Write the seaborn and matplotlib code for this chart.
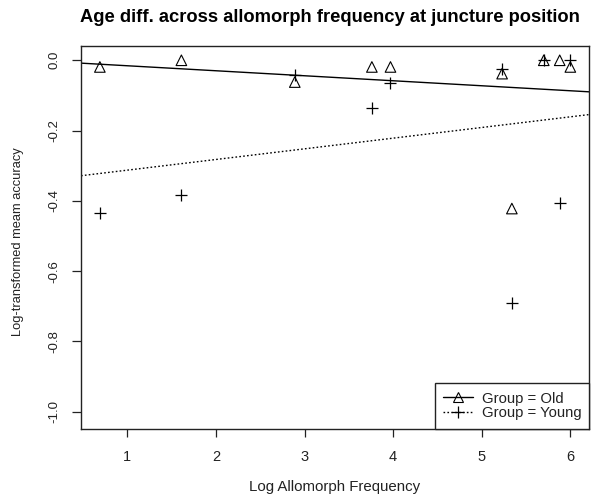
import matplotlib
matplotlib.use("Agg")
import matplotlib.pyplot as plt
from matplotlib.lines import Line2D
import numpy as np
import pandas as pd
import seaborn as sns

# ---- data ----
old_x = [0.69, 1.61, 2.89, 3.76, 3.97, 5.23, 5.70, 5.88, 6.00, 5.34]
old_y = [-0.019, 0.0, -0.062, -0.019, -0.019, -0.038, 0.0, 0.0, -0.019, -0.422]
young_x = [0.69, 1.61, 2.89, 3.76, 3.97, 5.23, 5.70, 6.00, 5.88, 5.34]
young_y = [-0.436, -0.384, -0.043, -0.135, -0.065, -0.024, 0.0, 0.0, -0.405, -0.692]
groups = ["Old", "Young"]
legend_labels = ["Group = Old", "Group = Young"]
x_ticks = [1, 2, 3, 4, 5, 6]
y_ticks = [0.0, -0.2, -0.4, -0.6, -0.8, -1.0]
y_tick_labels = ["0.0", "-0.2", "-0.4", "-0.6", "-0.8", "-1.0"]

df = pd.DataFrame({
    "x": old_x + young_x,
    "y": old_y + young_y,
    "Group": ["Old"] * len(old_x) + ["Young"] * len(young_x),
})

sns.set_theme(style="white")
plt.rcParams["font.family"] = ["Liberation Sans", "DejaVu Sans"]

W, H = 592, 496
fig = plt.figure(figsize=(W / 100, H / 100), dpi=100)
left, right, top, bottom = 81, 589.3, 45.7, 428.5
ax = fig.add_axes([left / W, 1 - bottom / H, (right - left) / W, (bottom - top) / H])

xlim = (0.477, 6.214)
ylim = (-1.048, 0.0415)
ax.set_xlim(*xlim)
ax.set_ylim(*ylim)

styles = {
    "Old": dict(marker="^", ls="-", s=58),
    "Young": dict(marker="+", ls=(0, (1.2, 1.6)), s=70),
}

for g in groups:
    sub = df[df["Group"] == g]
    st = styles[g]
    if st["marker"] == "^":
        skw = dict(facecolors="none", edgecolors="black", linewidths=0.8, s=st["s"], alpha=1, zorder=3)
    else:
        skw = dict(color="black", linewidths=0.9, s=st["s"], alpha=1, zorder=3)
    sns.regplot(data=sub, x="x", y="y", ax=ax, ci=None, truncate=False,
                marker=st["marker"], color="black", scatter_kws=skw,
                line_kws=dict(color="black", lw=1.0, ls=st["ls"]))

ax.set_xlim(*xlim)
ax.set_ylim(*ylim)

ax.set_xticks(x_ticks)
ax.set_xticklabels([str(t) for t in x_ticks])
ax.set_yticks(y_ticks)
ax.set_yticklabels(y_tick_labels, rotation=90, va="center")

txt = "#222222"
ax.tick_params(axis="x", length=6, width=0.9, color="#222222", pad=9.5,
               labelsize=10.5, labelcolor=txt, direction="out", bottom=True)
ax.tick_params(axis="y", length=6.5, width=0.9, color="#222222", pad=8.5,
               labelsize=9.5, labelcolor=txt, direction="out", left=True)

for sp in ax.spines.values():
    sp.set_visible(True)
    sp.set_color("#222222")
    sp.set_linewidth(1.0)

ax.set_xlabel("")
ax.set_ylabel("")
fig.text(335 / W, 1 - 487 / H, "Log Allomorph Frequency", ha="center", va="center",
         fontsize=10.8, color=txt)
fig.text(18 / W, 1 - 242 / H, "Log-transformed meam accuracy", ha="center", va="center",
         rotation=90, fontsize=9.3, color=txt)
fig.text(330 / W, 1 - 17 / H, "Age diff. across allomorph frequency at juncture position",
         ha="center", va="center", fontsize=13.2, fontweight="bold", color="black")

handles = [
    Line2D([], [], color="black", lw=1.0, ls="-", marker="^", mfc="none", mec="black", ms=6.5, mew=0.8),
    Line2D([], [], color="black", lw=1.0, ls=(0, (1.2, 1.6)), marker="+", mec="black", ms=8, mew=0.9),
]
leg = ax.legend(handles, legend_labels, loc="lower right", borderaxespad=0,
                fontsize=10.7, frameon=True, fancybox=False, framealpha=1,
                edgecolor="#222222", labelspacing=0.05, borderpad=0.55,
                handlelength=2.0, handletextpad=0.6)
leg.get_frame().set_linewidth(1.0)
for t in leg.get_texts():
    t.set_color(txt)

fig.savefig("out.png", dpi=100)
